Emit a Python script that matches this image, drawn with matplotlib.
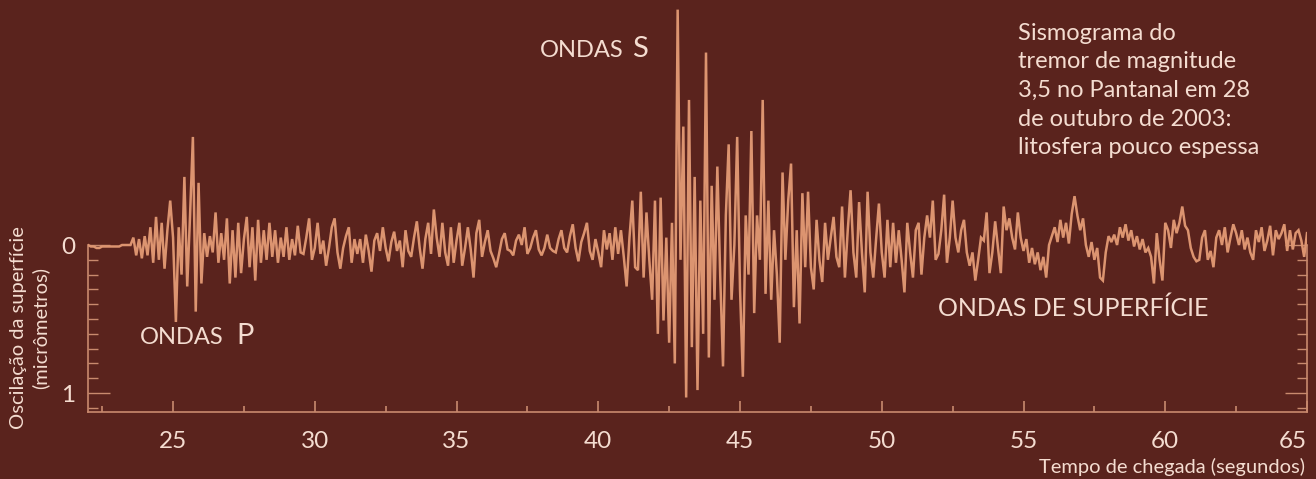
import numpy as np
import matplotlib
matplotlib.use("Agg")
import matplotlib.pyplot as plt
from matplotlib.ticker import FixedLocator

# ---------------- data (surface oscillation, micrometres; positive = downward) -------------
sample_step_s = 0.1

seg_22_start = 22.0
seg_22 = [
    0.00, 0.01, 0.01, 0.02, 0.02, 0.01, 0.01, 0.01, 0.01, 0.01,
    0.01, 0.01, 0.00, 0.00, 0.00, 0.00, -0.05, 0.07, -0.04, 0.09,
    -0.06, 0.07, -0.12, 0.12, -0.19, 0.10, -0.15, 0.16, -0.10, -0.30,
    -0.05, 0.52, -0.12, 0.20, -0.46, 0.28, -0.20, -0.73, 0.45, -0.42,
    0.26, -0.08, 0.08, -0.06, 0.05, -0.22, 0.12, -0.08, 0.10, -0.18,
    0.26, -0.10, 0.22, -0.15, 0.19, -0.04, -0.19, 0.15, -0.12, 0.24,
    -0.17, 0.12, -0.10, 0.10, -0.15, 0.08, -0.10, 0.12, -0.05, 0.08,
    -0.12, 0.10, -0.04, 0.07, -0.13, 0.05, 0.06, -0.05, -0.18, 0.10,
]

seg_30_start = 30.0
seg_30 = [
    0.02, -0.15, 0.06, -0.03, 0.14, 0.02, -0.12, -0.18, 0.05, 0.16,
    0.02, -0.06, -0.12, 0.12, -0.04, 0.06, -0.04, 0.12, -0.07, 0.04,
    0.18, -0.03, -0.08, 0.04, -0.12, 0.02, 0.11, -0.02, -0.09, 0.04,
    -0.03, 0.15, -0.10, 0.04, 0.08, -0.05, -0.16, 0.02, 0.16, -0.04,
    -0.15, 0.06, -0.24, -0.05, 0.08, -0.15, 0.05, 0.14, -0.12, 0.12,
    -0.03, -0.15, 0.14, 0.02, -0.12, 0.03, 0.22, -0.08, -0.17, 0.08,
    -0.02, -0.10, 0.04, 0.09, 0.15, 0.06, -0.04, -0.08, 0.03, 0.04,
    0.07, -0.03, -0.07, 0.00, -0.12, 0.06, 0.02, -0.05, -0.10, 0.03,
    0.07, 0.02, -0.07, 0.02, 0.04, 0.05, -0.04, -0.10, 0.02, 0.05,
]

seg_39_start = 39.0
seg_39 = [
    -0.06, -0.14, 0.02, 0.11, -0.02, -0.08, -0.15, 0.04, 0.10, -0.04,
    0.05, 0.15, -0.10, 0.03, -0.08, 0.10, -0.12, 0.06, -0.10, 0.08,
    0.28, -0.05, -0.30, 0.15, 0.17, -0.36, 0.22, -0.22, 0.10, 0.37,
    -0.30, 0.60, -0.32, 0.51, -0.05, 0.66, -0.15, 0.80, -1.59, 0.10,
    -0.80, 1.03, -0.98, 0.69, -0.46, 0.98, -0.30, 0.60, -1.30, 0.76,
    -0.40, 0.37, -0.53, 0.20, 0.82, -0.20, -0.68, 0.37, 0.00, -0.73,
    0.30, 0.89, -0.20, 0.20, -0.77, 0.46, -0.20, 0.10, -0.98, 0.33,
    -0.30, 0.37, -0.10, 0.20, 0.66, -0.49, 0.10, -0.30, -0.55, 0.42,
    -0.10, 0.53, -0.35, 0.15, -0.36, 0.15, 0.30, -0.17, 0.10, 0.25,
    -0.15, 0.10, -0.05, -0.19, 0.08, 0.15, -0.26, 0.22, -0.10, -0.37,
]

seg_49_start = 49.0
seg_49 = [
    0.05, 0.22, -0.29, 0.05, 0.32, -0.36, 0.05, 0.22, -0.04, -0.28,
    0.05, 0.22, -0.17, 0.15, -0.15, 0.12, -0.10, 0.10, 0.32, -0.15,
    0.05, 0.22, -0.10, -0.15, 0.20, -0.05, -0.20, -0.05, -0.30, 0.10,
    0.06, -0.10, -0.34, 0.12, -0.05, -0.30, -0.05, 0.05, -0.10, -0.17,
    0.05, 0.14, 0.05, 0.24, 0.10, -0.05, -0.03, -0.22, 0.19, 0.05,
    -0.16, 0.02, 0.19, -0.26, -0.10, -0.18, -0.05, 0.03, -0.22, -0.05,
    0.04, -0.04, 0.12, 0.02, 0.13, 0.05, 0.17, 0.08, 0.22, 0.00,
    -0.06, -0.12, -0.02, -0.17, -0.05, -0.15, -0.01, -0.21, -0.33, -0.20,
]

seg_57_start = 57.0
seg_57 = [
    -0.10, -0.18, 0.00, 0.08, -0.02, 0.10, 0.02, 0.22, 0.24, 0.05,
    -0.06, -0.02, -0.07, 0.00, -0.12, -0.05, -0.14, -0.03, -0.10, 0.01,
    -0.06, 0.03, -0.04, 0.05, 0.02, 0.08, 0.26, -0.08, 0.10, 0.24,
    -0.15, -0.10, 0.02, -0.17, -0.08, -0.15, -0.26, -0.13, -0.10, 0.02,
    0.08, 0.11, 0.10, -0.05, -0.10, 0.10, 0.04, 0.15, -0.05, -0.10,
    0.00, -0.12, 0.05, -0.05, -0.14, -0.08, 0.00, -0.10, 0.03, -0.05,
    0.05, 0.10, -0.10, -0.02, -0.12, 0.04, -0.03, -0.13, 0.07, -0.10,
    -0.04, -0.08, -0.14, 0.04, -0.10, 0.03, -0.08, -0.10, -0.03, 0.08,
    -0.08,
]

x_ticks = [25, 30, 35, 40, 45, 50, 55, 60, 65]
x_tick_labels = ["25", "30", "35", "40", "45", "50", "55", "60", "65"]
y_ticks = [0, 1]
y_tick_labels = ["0", "1"]

# ---------------- style ----------------
BG = "#5a231d"
TRACE = "#dc9470"
AXIS = "#c98a6e"
TXT = "#f4dcd0"
FONT = "Lato"

W, H = 1316, 479
fig = plt.figure(figsize=(W / 100, H / 100), dpi=100, facecolor=BG)
ax = fig.add_axes([88 / W, 67 / H, (1307 - 88) / W, 412 / H])
ax.set_facecolor(BG)

segments = [(seg_22_start, seg_22), (seg_30_start, seg_30), (seg_39_start, seg_39),
            (seg_49_start, seg_49), (seg_57_start, seg_57)]
t = np.concatenate([s0 + sample_step_s * np.arange(len(v)) for s0, v in segments])
amp = np.concatenate([np.asarray(v, float) for _, v in segments])

ax.plot(t, amp, color=TRACE, lw=1.8, solid_joinstyle="miter", zorder=3)

ax.set_xlim(22.0, 65.0)
ax.set_ylim(1.128, -1.655)

ax.spines["top"].set_visible(False)
for s in ["left", "right", "bottom"]:
    ax.spines[s].set_color(AXIS)
    ax.spines[s].set_linewidth(1.2)
ax.spines["left"].set_bounds(0, 1.128)
ax.spines["right"].set_bounds(0, 1.128)

ax.xaxis.set_major_locator(FixedLocator(x_ticks))
ax.set_xticklabels(x_tick_labels)
ax.xaxis.set_minor_locator(FixedLocator([22.5 + 5 * i for i in range(9)]))
ax.yaxis.set_major_locator(FixedLocator(y_ticks))
ax.set_yticklabels(y_tick_labels)
ax.yaxis.set_minor_locator(FixedLocator([0.1, 0.2, 0.3, 0.4, 0.5, 0.6, 0.7, 0.8, 0.9, 1.1]))

ax.tick_params(axis="x", which="major", direction="in", length=8, width=1.2, color=AXIS,
               labelcolor=TXT, labelsize=17.5, pad=14)
ax.tick_params(axis="x", which="minor", direction="in", length=4, width=1.2, color=AXIS)
ax.tick_params(axis="y", which="major", direction="in", length=16, width=1.0, color=AXIS,
               labelcolor=TXT, labelsize=17.5, pad=9, right=True)
ax.tick_params(axis="y", which="minor", direction="in", length=7, width=1.0, color=AXIS,
               right=True)
for lab in ax.get_xticklabels() + ax.get_yticklabels():
    lab.set_fontfamily(FONT)
# last x label sits just inside the right edge, as in the original
ax.get_xticklabels()[-1].set_horizontalalignment("right")
ax.get_xticklabels()[-1].set_x(65.0)


def ftext(x, y, s, **kw):
    kw.setdefault("color", TXT)
    kw.setdefault("fontfamily", FONT)
    return fig.text(x / W, 1 - y / H, s, **kw)


# y-axis label (two lines)
ftext(19, 328, "Oscilação da superfície", rotation=90, ha="center", va="center", fontsize=14.5)
ftext(40, 328, "(micrômetros)", rotation=90, ha="center", va="center", fontsize=14.5)

# x-axis label
ftext(1305, 467, "Tempo de chegada (segundos)", ha="right", va="center", fontsize=14.5)

# wave annotations
ftext(140, 344, "ONDAS", ha="left", va="baseline", fontsize=17)
ftext(236, 344, "P", ha="left", va="baseline", fontsize=21)
ftext(540, 57, "ONDAS", ha="left", va="baseline", fontsize=17)
ftext(632, 57, "S", ha="left", va="baseline", fontsize=21)
ftext(938, 316, "ONDAS DE SUPERFÍCIE", ha="left", va="baseline", fontsize=18)

# caption
caption = ["Sismograma do", "tremor de magnitude", "3,5 no Pantanal em 28",
           "de outubro de 2003:", "litosfera pouco espessa"]
for i, line in enumerate(caption):
    ftext(1018, 40 + 28.5 * i, line, ha="left", va="baseline", fontsize=17)

fig.savefig("out.png", dpi=100, facecolor=BG)
